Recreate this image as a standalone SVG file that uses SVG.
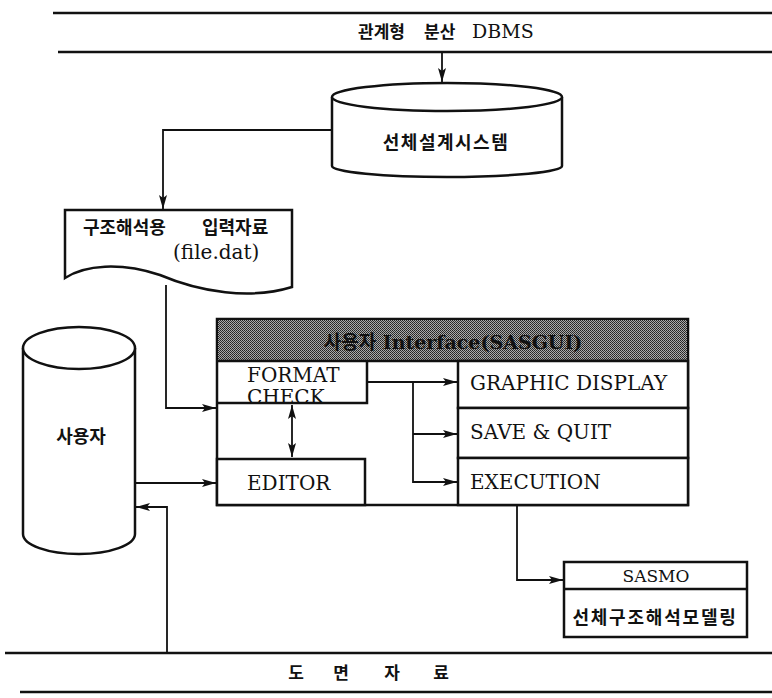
<svg xmlns="http://www.w3.org/2000/svg" width="772" height="698" viewBox="0 0 772 698">
<style>
.ln{fill:none;stroke:#111;stroke-width:2.5}
.bx{fill:#fff;stroke:#111;stroke-width:2.5}
.cn{fill:none;stroke:#111;stroke-width:1.8}
.ko{font-family:"Noto Sans CJK KR",sans-serif;font-weight:700;fill:#111}
.en{font-family:"DejaVu Serif","Liberation Serif",serif;fill:#111}
</style>
<defs>
<marker id="ah" viewBox="0 0 14 8" refX="14" refY="4" markerWidth="14" markerHeight="8" markerUnits="userSpaceOnUse" orient="auto-start-reverse">
<path d="M0,0 L14,4 L0,8 L3,4 Z" fill="#111"/>
</marker>
<pattern id="dither" width="2" height="2" patternUnits="userSpaceOnUse">
<rect width="2" height="2" fill="#aaa"/>
<rect x="0" y="0" width="1" height="1" fill="#222"/>
<rect x="1" y="1" width="1" height="1" fill="#333"/>
</pattern>
</defs>
<rect width="772" height="698" fill="#fff"/>

<g id="dbms">
<path class="ln" d="M53,13 H772 M58,52 H772"/>
<text class="ko" x="358" y="38" font-size="17">관계형</text>
<text class="ko" x="424" y="38" font-size="17">분산</text>
<text class="en" x="472" y="38" font-size="19">DBMS</text>
</g>

<g id="design-system">
<path class="bx" d="M332,97 V166 A115,11 0 0 0 562,166 V97"/>
<ellipse class="bx" cx="447" cy="97" rx="115" ry="14"/>
<text class="ko" x="446" y="149" font-size="18" letter-spacing="1.5" text-anchor="middle">선체설계시스템</text>
</g>

<g id="input-file">
<path class="bx" d="M65,210 H292 V287 C250,300 200,292 160,275 C120,262 85,265 65,278 Z"/>
<text class="ko" x="83" y="234" font-size="18">구조해석용<tspan x="202">입력자료</tspan></text>
<text class="en" x="173" y="259" font-size="20">(file.dat)</text>
</g>

<g id="user">
<path class="bx" d="M23,348 V534 A56,20 0 0 0 135,534 V348"/>
<ellipse class="bx" cx="79" cy="348" rx="56" ry="21"/>
<text class="ko" x="81" y="443" font-size="18" text-anchor="middle">사용자</text>
</g>

<g id="interface">
<rect class="bx" x="217" y="319" width="471" height="186"/>
<rect x="218" y="320" width="469" height="41" fill="url(#dither)"/>
<path class="ln" d="M217,361 H688"/>
<text class="en" x="453" y="349" font-size="19" font-weight="700" text-anchor="middle" fill="#000"><tspan font-family="Noto Sans CJK KR,sans-serif">사용자</tspan> Interface(SASGUI)</text>
</g>

<g id="format-check">
<text class="en" x="247" y="382" font-size="20">FORMAT</text>
<text class="en" x="247" y="404" font-size="20">CHECK</text>
<path class="ln" d="M217,403 H367 V361"/>
</g>

<g id="editor">
<rect class="bx" x="217" y="459" width="148" height="46"/>
<text class="en" x="247" y="490" font-size="20">EDITOR</text>
</g>

<g id="graphic-display">
<rect class="bx" x="458" y="361" width="230" height="47"/>
<text class="en" x="470" y="390" font-size="20">GRAPHIC DISPLAY</text>
</g>

<g id="save-quit">
<rect class="bx" x="458" y="408" width="230" height="50"/>
<text class="en" x="470" y="439" font-size="20">SAVE &amp; QUIT</text>
</g>

<g id="execution">
<rect class="bx" x="458" y="458" width="230" height="47"/>
<text class="en" x="470" y="489" font-size="20">EXECUTION</text>
</g>

<g id="sasmo">
<rect class="bx" x="564" y="562" width="183" height="75"/>
<path class="ln" d="M564,589 H747"/>
<text class="en" x="656" y="582" font-size="17" text-anchor="middle">SASMO</text>
<text class="ko" x="655" y="624" font-size="18" letter-spacing="1.8" text-anchor="middle">선체구조해석모델링</text>
</g>

<g id="drawings">
<path class="ln" d="M5,653 H772 M20,692 H772"/>
<text class="ko" font-size="17" y="679" text-anchor="middle"><tspan x="296">도</tspan><tspan x="341">면</tspan><tspan x="392">자</tspan><tspan x="441">료</tspan></text>
</g>

<g id="connectors">
<path class="cn" d="M442,52 V82" marker-end="url(#ah)"/>
<path class="cn" d="M332,130 H163 V209" marker-end="url(#ah)"/>
<path class="cn" d="M166,285 V408 H216" marker-end="url(#ah)"/>
<path class="cn" d="M135,483 H216" marker-end="url(#ah)"/>
<path class="cn" d="M167,653 V507 H136" marker-end="url(#ah)"/>
<path class="cn" d="M292,405 V457" marker-start="url(#ah)" marker-end="url(#ah)"/>
<path class="cn" d="M367,382 H457" marker-end="url(#ah)"/>
<path class="cn" d="M413,382 V482 H457" marker-end="url(#ah)"/>
<path class="cn" d="M413,434 H457" marker-end="url(#ah)"/>
<path class="cn" d="M517,505 V580 H563" marker-end="url(#ah)"/>
</g>
</svg>
